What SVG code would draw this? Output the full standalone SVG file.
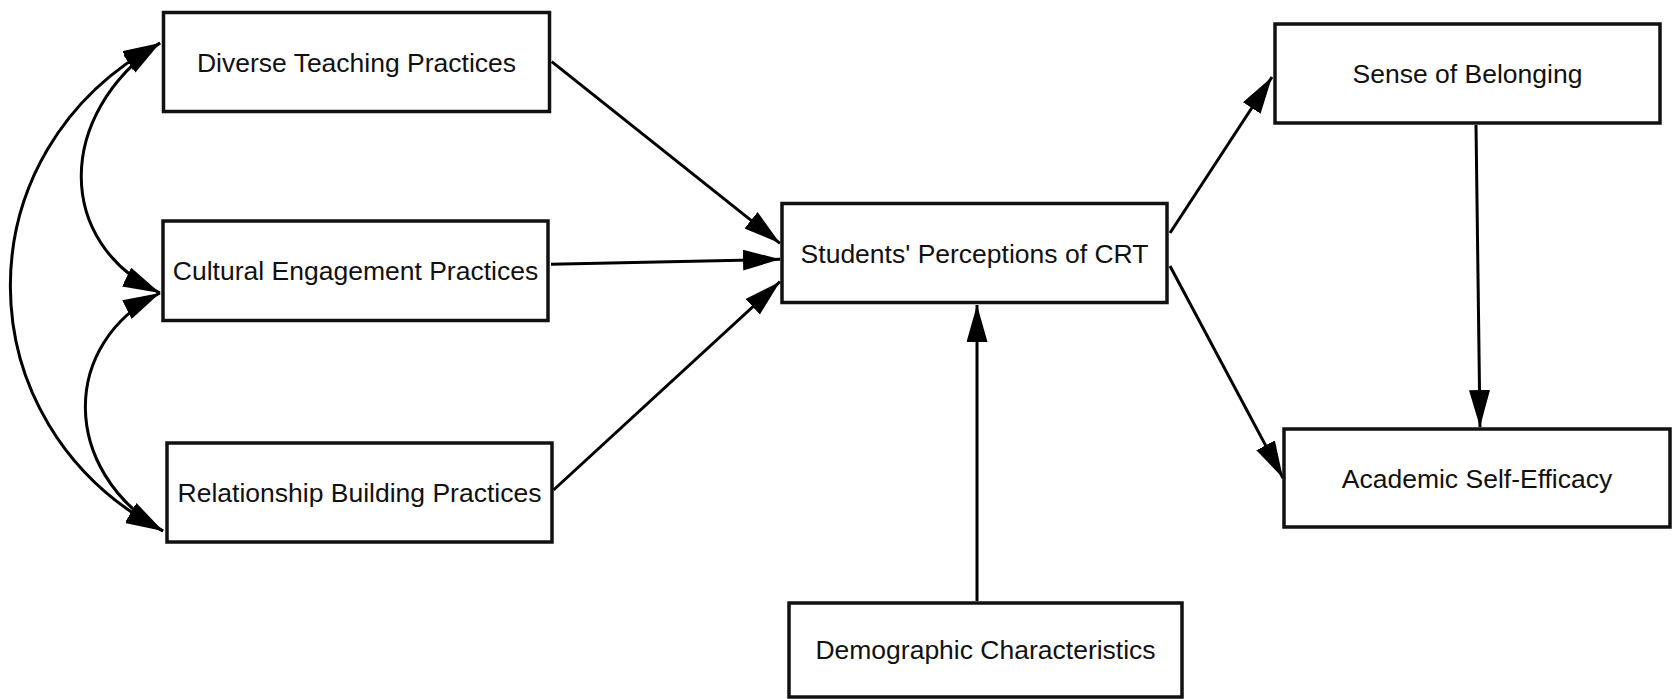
<svg xmlns="http://www.w3.org/2000/svg" width="1675" height="699" viewBox="0 0 1675 699">
  <defs>
    <!-- solid black arrowhead, tip at the path end -->
    <marker id="arrow" viewBox="0 0 37 21" refX="37" refY="10.5" markerWidth="37" markerHeight="21" markerUnits="userSpaceOnUse" orient="auto-start-reverse">
      <path d="M0,0 L37,10.5 L0,21 Z" fill="#000"/>
    </marker>
    <style>
      .box { fill: #fff; stroke: #111; stroke-width: 3.5; }
      .label { font-family: "Liberation Sans", Arial, sans-serif; font-size: 26.5px; fill: #111; text-anchor: middle; }
      .edge { fill: none; stroke: #000; stroke-width: 3; marker-end: url(#arrow); }
      .cov { fill: none; stroke: #000; stroke-width: 3; marker-start: url(#arrow); marker-end: url(#arrow); }
    </style>
  </defs>

  <rect width="1675" height="699" fill="#fff"/>

  <!-- connectors -->
  <g id="connectors">
    <!-- covariances among the three practice factors -->
    <path class="cov" d="M160,43 C55,115 55,243 160,293"/>
    <path class="cov" d="M160,293 C60,343 60,470 163,531"/>
    <path class="cov" d="M160,43 C-40,150 -40,424 163,531"/>
    <!-- practices to perceptions -->
    <path class="edge" d="M551.7,61.7 L780,243.3"/>
    <path class="edge" d="M551,264.3 L780,259.3"/>
    <path class="edge" d="M553.5,490 L780,281.7"/>
    <!-- demographics to perceptions -->
    <path class="edge" d="M977,601 L977,305"/>
    <!-- perceptions to outcomes -->
    <path class="edge" d="M1170,233 L1272,77"/>
    <path class="edge" d="M1170,266 L1283,478"/>
    <path class="edge" d="M1476,125 L1480,427"/>
  </g>

  <g id="diverse-teaching">
    <rect class="box" x="163.5" y="12.5" width="386" height="99"/>
    <text class="label" x="356.5" y="71.5">Diverse Teaching Practices</text>
  </g>

  <g id="cultural-engagement">
    <rect class="box" x="163" y="221" width="385" height="99.5"/>
    <text class="label" x="355.5" y="280">Cultural Engagement Practices</text>
  </g>

  <g id="relationship-building">
    <rect class="box" x="167" y="443" width="385" height="99"/>
    <text class="label" x="359.5" y="502">Relationship Building Practices</text>
  </g>

  <g id="perceptions-crt">
    <rect class="box" x="782" y="203.5" width="385" height="99"/>
    <text class="label" x="974.5" y="262.5">Students' Perceptions of CRT</text>
  </g>

  <g id="demographics">
    <rect class="box" x="789" y="603" width="393" height="94"/>
    <text class="label" x="985.5" y="659">Demographic Characteristics</text>
  </g>

  <g id="belonging">
    <rect class="box" x="1275" y="24" width="385" height="99"/>
    <text class="label" x="1467.5" y="83">Sense of Belonging</text>
  </g>

  <g id="self-efficacy">
    <rect class="box" x="1284" y="429" width="386" height="98"/>
    <text class="label" x="1477" y="488">Academic Self-Efficacy</text>
  </g>
</svg>
